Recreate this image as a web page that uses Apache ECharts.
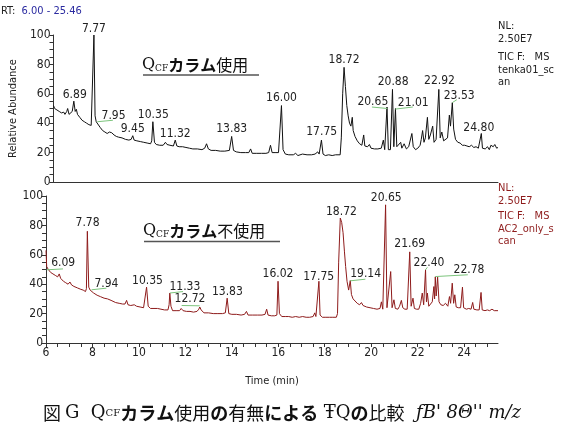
<!DOCTYPE html>
<html>
<head>
<meta charset="utf-8">
<style>
  html, body { margin: 0; padding: 0; background: #fff; }
  #main { width: 564px; height: 436px; }
</style>
<script src="https://cdn.jsdelivr.net/npm/echarts@6/dist/echarts.min.js"></script>
</head>
<body>
<div id="main"></div>
<script>
// QCFカラム使用 (上段, 黒)
var topTime = [6.00,6.05,6.15,6.25,6.35,6.45,6.50,6.58,6.62,6.68,6.75,6.82,6.89,6.95,7.00,7.05,7.15,7.25,7.35,7.45,7.55,7.65,7.72,7.77,7.82,7.87,7.95,8.05,8.15,8.25,8.35,8.45,8.55,8.65,8.75,8.85,9.00,9.15,9.30,9.40,9.47,9.53,9.65,9.80,9.95,10.10,10.25,10.30,10.35,10.42,10.50,10.65,10.80,10.90,10.97,11.10,11.25,11.33,11.40,11.50,11.65,11.80,11.85,11.95,12.10,12.30,12.50,12.62,12.70,12.78,12.90,13.10,13.30,13.50,13.70,13.80,13.88,14.00,14.20,14.40,14.55,14.63,14.70,14.90,15.10,15.30,15.42,15.50,15.57,15.70,15.85,15.93,15.98,16.05,16.15,16.30,16.50,16.60,16.70,16.90,17.10,17.30,17.45,17.50,17.57,17.63,17.73,17.80,17.90,18.05,18.20,18.35,18.55,18.60,18.66,18.72,18.78,18.84,18.90,18.96,19.02,19.08,19.12,19.20,19.30,19.40,19.50,19.58,19.63,19.75,19.83,19.90,20.05,20.20,20.35,20.44,20.50,20.55,20.60,20.66,20.75,20.84,20.90,20.97,21.03,21.10,21.20,21.25,21.35,21.45,21.55,21.62,21.69,21.75,21.85,21.95,22.05,22.10,22.16,22.22,22.28,22.37,22.43,22.50,22.60,22.66,22.75,22.87,22.93,23.00,23.08,23.15,23.25,23.33,23.38,23.46,23.52,23.60,23.70,23.80,23.90,24.00,24.10,24.20,24.30,24.40,24.50,24.60,24.68,24.73,24.78,24.90,25.00,25.08,25.15,25.25,25.32,25.40,25.46];
var topValue = [52,50,49,48,47,47.5,46,48,50,46,47,48,55,48,49.5,46,44,42,41,40,39,38.5,39,100,45,41,41.5,37,35,34,33,34,33.5,32,31,30.5,30,29,28.5,29,31.5,28.5,28,27.5,27,26.5,26,28,41,27,25.5,25,25,27,25.5,25,24.5,28.5,24.5,24,24,23.5,24.5,23,22.5,22.5,22,23,26,22.5,21.5,21.5,21,21,21.5,31,21.5,20.5,20,20,20,22.5,19.5,19.5,19.5,19.5,20,25,20,20,20,20,52,22,19,18.5,18.5,19.5,18,19,18.5,18.5,19,18.5,20.5,19,28.5,19,18,18.5,18,18.5,18.5,30,60,78,65,52,45,40,38,44,35,31,28,26,25,32,24.5,24,25.5,23,22.5,22.5,23,28.5,22,22,51,22,22,63,24,50,24,23,27,23,26,22.5,24,23,33,24,22,23,25,29,35,27,30,44,29,32,38,27,29,63,30,34,28,27,30,45.5,38,54,36,29,27,26.5,25,25,24.5,24,25,23.5,24,23,24,33,23,22.5,24,22,25,24,25.5,23,23.5];

// QCFカラム不使用 (下段, 赤)
var botTime = [6.00,6.03,6.10,6.20,6.30,6.40,6.50,6.57,6.63,6.75,6.85,6.95,7.03,7.10,7.20,7.35,7.50,7.60,7.70,7.74,7.78,7.84,7.90,7.96,8.05,8.20,8.35,8.50,8.65,8.80,9.00,9.15,9.30,9.40,9.47,9.53,9.65,9.80,9.90,10.05,10.20,10.28,10.33,10.40,10.50,10.65,10.80,10.95,11.10,11.25,11.30,11.33,11.38,11.45,11.60,11.75,11.82,11.90,12.05,12.20,12.35,12.50,12.58,12.62,12.68,12.80,13.00,13.20,13.40,13.60,13.72,13.80,13.87,14.00,14.20,14.40,14.55,14.63,14.70,14.90,15.10,15.30,15.43,15.50,15.56,15.70,15.85,15.94,15.99,16.05,16.15,16.30,16.45,16.60,16.75,16.90,17.05,17.20,17.35,17.50,17.57,17.62,17.70,17.75,17.80,17.90,18.05,18.20,18.35,18.50,18.55,18.60,18.67,18.73,18.79,18.85,18.90,18.96,19.03,19.10,19.15,19.22,19.30,19.40,19.50,19.58,19.65,19.80,19.95,20.10,20.25,20.38,20.44,20.50,20.56,20.62,20.68,20.76,20.84,20.90,20.98,21.04,21.15,21.22,21.30,21.36,21.45,21.55,21.62,21.66,21.72,21.80,21.86,21.95,22.05,22.13,22.20,22.26,22.34,22.38,22.42,22.48,22.55,22.63,22.70,22.73,22.76,22.80,22.86,22.92,23.00,23.10,23.20,23.30,23.37,23.42,23.49,23.55,23.60,23.66,23.75,23.85,23.93,23.98,24.10,24.20,24.30,24.37,24.42,24.55,24.65,24.73,24.78,24.90,25.00,25.10,25.20,25.30,25.38,25.46];
var botValue = [63,52,50,48,47,46,45,47,44,42,41,40,41.5,39.5,38.5,37.5,36.5,36,35,37,76,38,36,36.5,34,32.5,31.5,30.5,30,29,27.5,27,26.5,26.5,29,26,25.5,26,25,24.5,24,25,38,25,23.5,23.5,23.5,23,22.5,22.5,26,34,25,22,22,22,23.5,22,21.5,21.5,21,21.5,23,24.5,22.5,20.5,20.5,20,20,20,20.5,30.5,20,19.5,19.5,19,19.5,21.5,19,19,19,19,19.5,23,19,18.5,18.5,19,42,20,18,18,18,17.5,18,17.5,18,17.5,17.5,18,20.5,18,19,42,19,17.5,17.5,17.5,17.5,17.5,20,55,85,82,75,62,52,42,36,42.5,33,30,29,27,26,27.5,25.5,24.5,24,23.5,23,23.5,28,23,23,94,24,23,48.6,24,29.4,23.5,23,25,29,24,23,23,24,62,25,30.5,23.5,23,23,27,34,26,49.8,28,34,25,26,28,38.4,30,45,32,44.8,28,26,25.5,27,25,31.6,27,40.7,27,32.8,24.5,24,24,38,24,23,23.5,23,27.6,23,22.5,22.5,34.4,22.5,22,22.5,22,23,22,23,22];

// ピークラベル [テキスト, 時間, 高さ]
var topLabels = [['7.77',7.77,104],['6.89',6.93,59],['7.95',8.63,45],['9.45',9.47,36],['10.35',10.37,45.6],['11.32',11.33,33],['13.83',13.80,36],['16.00',15.98,57],['17.75',17.74,34],['18.72',18.72,83],['20.65',19.98,54.4],['20.88',20.87,68],['21.01',21.75,54],['22.92',22.90,68.7],['23.53',23.76,58.7],['24.80',24.62,37]];
var topLeaders = [[7.92,41,8.60,42],[19.94,51,20.62,50],[20.97,49.6,21.73,51],[23.46,54,23.66,56]];
var botLabels = [['6.09',6.74,54.3],['7.78',7.79,81.5],['7.94',8.60,40],['10.35',10.37,42.5],['11.33',11.98,38],['12.72',12.20,29.9],['13.83',13.81,34.6],['16.02',15.99,46.8],['17.75',17.74,45],['18.72',18.72,89.4],['20.65',20.65,99],['19.14',19.76,46.8],['21.69',21.66,67.4],['22.40',22.49,54.3],['22.78',24.21,49.8]];
var botLeaders = [[6.03,49.8,6.73,50.4],[7.96,36.2,8.60,37.3],[11.33,34,11.90,35],[11.84,25.5,12.62,25.3],[19.10,42.3,19.75,43.4],[22.34,49.8,22.42,51.5],[22.76,45.2,24.16,46.4]];

var xTicks = [6, 8, 10, 12, 14, 16, 18, 20, 22, 24];
var yTicks = [0, 20, 40, 60, 80, 100];

var plotH = 147; // px per 100%

function pairs(t, v) {
    var out = [];
    for (var i = 0; i < t.length; i++) out.push([t[i], v[i]]);
    return out;
}
// markPoint drops points above the axis max, so clamp and shift the label instead
function marks(list) {
    return list.map(function (p) {
        var over = Math.max(0, p[2] - 100);
        return {
            name: p[0], coord: [p[1], Math.min(p[2], 100)],
            label: { offset: [0, -over * plotH / 100] }
        };
    });
}
function leaders(list) {
    return list.map(function (p) { return [{ coord: [p[0], p[1]] }, { coord: [p[2], p[3]] }]; });
}

var numFont = 'DejaVu Sans Condensed, Liberation Sans, sans-serif';
var jpFont = 'Noto Sans CJK JP';

function yAxisOpt(idx, withName) {
    return {
        type: 'value', gridIndex: idx, min: 0, max: 100, interval: 5,
        name: withName ? 'Relative Abundance' : '',
        nameLocation: 'middle', nameGap: 33, nameRotate: 90,
        nameTextStyle: { fontFamily: numFont, fontSize: 11, color: '#222' },
        axisLine: { show: true, lineStyle: { color: '#333' } },
        axisTick: { show: true, length: 4, lineStyle: { color: '#333' } },
        axisLabel: {
            fontFamily: numFont, fontSize: 12, color: '#222', margin: 3,
            formatter: function (v) { return yTicks.indexOf(v) >= 0 ? String(v) : ''; }
        },
        splitLine: { show: false }
    };
}

function xAxisOpt(idx, withLabels) {
    return {
        type: 'value', gridIndex: idx, min: 6, max: 25.46, interval: 0.5,
        axisLine: { show: true, onZero: false, lineStyle: { color: '#333' } },
        axisTick: { show: withLabels, length: 4, lineStyle: { color: '#333' } },
        axisLabel: {
            show: withLabels, fontFamily: numFont, fontSize: 12, color: '#222', margin: 4,
            showMaxLabel: false,
            formatter: function (v) { return xTicks.indexOf(v) >= 0 ? String(v) : ''; }
        },
        name: withLabels ? 'Time (min)' : '',
        nameLocation: 'middle', nameGap: 33,
        nameTextStyle: { fontFamily: numFont, fontSize: 11, color: '#222' },
        splitLine: { show: false }
    };
}

function traceSeries(idx, t, v, color, labels, lead) {
    return {
        type: 'line', xAxisIndex: idx, yAxisIndex: idx,
        data: pairs(t, v), showSymbol: false, clip: false, animation: false,
        lineStyle: { color: color, width: 1 },
        markPoint: {
            symbol: 'circle', symbolSize: 0, animation: false,
            label: { show: true, position: 'inside', formatter: '{b}', fontFamily: numFont, fontSize: 12, color: '#222' },
            data: marks(labels)
        },
        markLine: {
            symbol: 'none', silent: true, animation: false,
            label: { show: false },
            lineStyle: { color: '#7cc47c', width: 1, type: 'solid' },
            data: leaders(lead)
        }
    };
}

var chart = echarts.init(document.getElementById('main'));
chart.setOption({
    animation: false,
    grid: [
        { left: 46, top: 35, width: 452, height: plotH },
        { left: 46, top: 196, width: 452, height: plotH }
    ],
    xAxis: [xAxisOpt(0, false), xAxisOpt(1, true)],
    yAxis: [yAxisOpt(0, true), yAxisOpt(1, false)],
    series: [
        traceSeries(0, topTime, topValue, '#111111', topLabels, topLeaders),
        traceSeries(1, botTime, botValue, '#8e1b1b', botLabels, botLeaders)
    ],
    graphic: [
        { type: 'text', left: 1, top: 6, style: {
            rich: { k: { fill: '#222', fontSize: 11, fontFamily: numFont }, b: { fill: '#2a2aa0', fontSize: 11, fontFamily: numFont } },
            text: '{k|RT:  }{b|6.00 - 25.46}' } },
        { type: 'text', left: 498, top: 20, style: {
            text: 'NL:\n2.50E7', fill: '#222', fontSize: 11, fontFamily: numFont, lineHeight: 13 } },
        { type: 'text', left: 498, top: 51, style: {
            text: 'TIC F:   MS\ntenka01_sc\nan', fill: '#222', fontSize: 11, fontFamily: numFont, lineHeight: 12.5 } },
        { type: 'text', left: 498, top: 182, style: {
            text: 'NL:\n2.50E7', fill: '#8e1b1b', fontSize: 11, fontFamily: numFont, lineHeight: 13 } },
        { type: 'text', left: 498, top: 210, style: {
            text: 'TIC F:   MS\nAC2_only_s\ncan', fill: '#8e1b1b', fontSize: 11, fontFamily: numFont, lineHeight: 12.5 } },
        { type: 'text', left: 142, top: 57, style: {
            rich: {
                q: { fontSize: 16, fontFamily: 'DejaVu Serif', fill: '#111' },
                c: { fontSize: 9, fontFamily: 'DejaVu Serif', fill: '#111', verticalAlign: 'bottom' },
                b: { fontSize: 16, fontFamily: jpFont, fontWeight: 'bold', fill: '#111' },
                r: { fontSize: 16, fontFamily: jpFont, fill: '#111' }
            },
            text: '{q|Q}{c|CF}{b|カラム}{r|使用}' } },
        { type: 'line', shape: { x1: 143, y1: 75, x2: 259, y2: 75 }, style: { stroke: '#555', lineWidth: 1.5 } },
        { type: 'text', left: 143, top: 223, style: {
            rich: {
                q: { fontSize: 16, fontFamily: 'DejaVu Serif', fill: '#111' },
                c: { fontSize: 9, fontFamily: 'DejaVu Serif', fill: '#111', verticalAlign: 'bottom' },
                b: { fontSize: 16, fontFamily: jpFont, fontWeight: 'bold', fill: '#111' },
                r: { fontSize: 16, fontFamily: jpFont, fill: '#111' }
            },
            text: '{q|Q}{c|CF}{b|カラム}{r|不使用}' } },
        { type: 'line', shape: { x1: 144, y1: 241.5, x2: 280, y2: 241.5 }, style: { stroke: '#555', lineWidth: 1.5 } },
        { type: 'text', left: 'center', top: 404, style: {
            rich: {
                r: { fontSize: 18, fontFamily: jpFont, fill: '#111' },
                b: { fontSize: 18, fontFamily: jpFont, fontWeight: 'bold', fill: '#111' },
                s: { fontSize: 18, fontFamily: 'DejaVu Serif', fill: '#111' },
                c: { fontSize: 10, fontFamily: 'DejaVu Serif', fill: '#111' },
                i: { fontSize: 18, fontFamily: 'DejaVu Serif', fontStyle: 'italic', fill: '#111' }
            },
            text: '{r|図 }{s|G  Q}{c|CF}{b|カラム}{r|使用}{b|の}{r|有無}{b|による}{s| ŦQ}{b|の}{r|比較}{i|\u00a0\u00a0ƒB\' 8Θ\'\' m/z}' } }
    ]
});
</script>
</body>
</html>
